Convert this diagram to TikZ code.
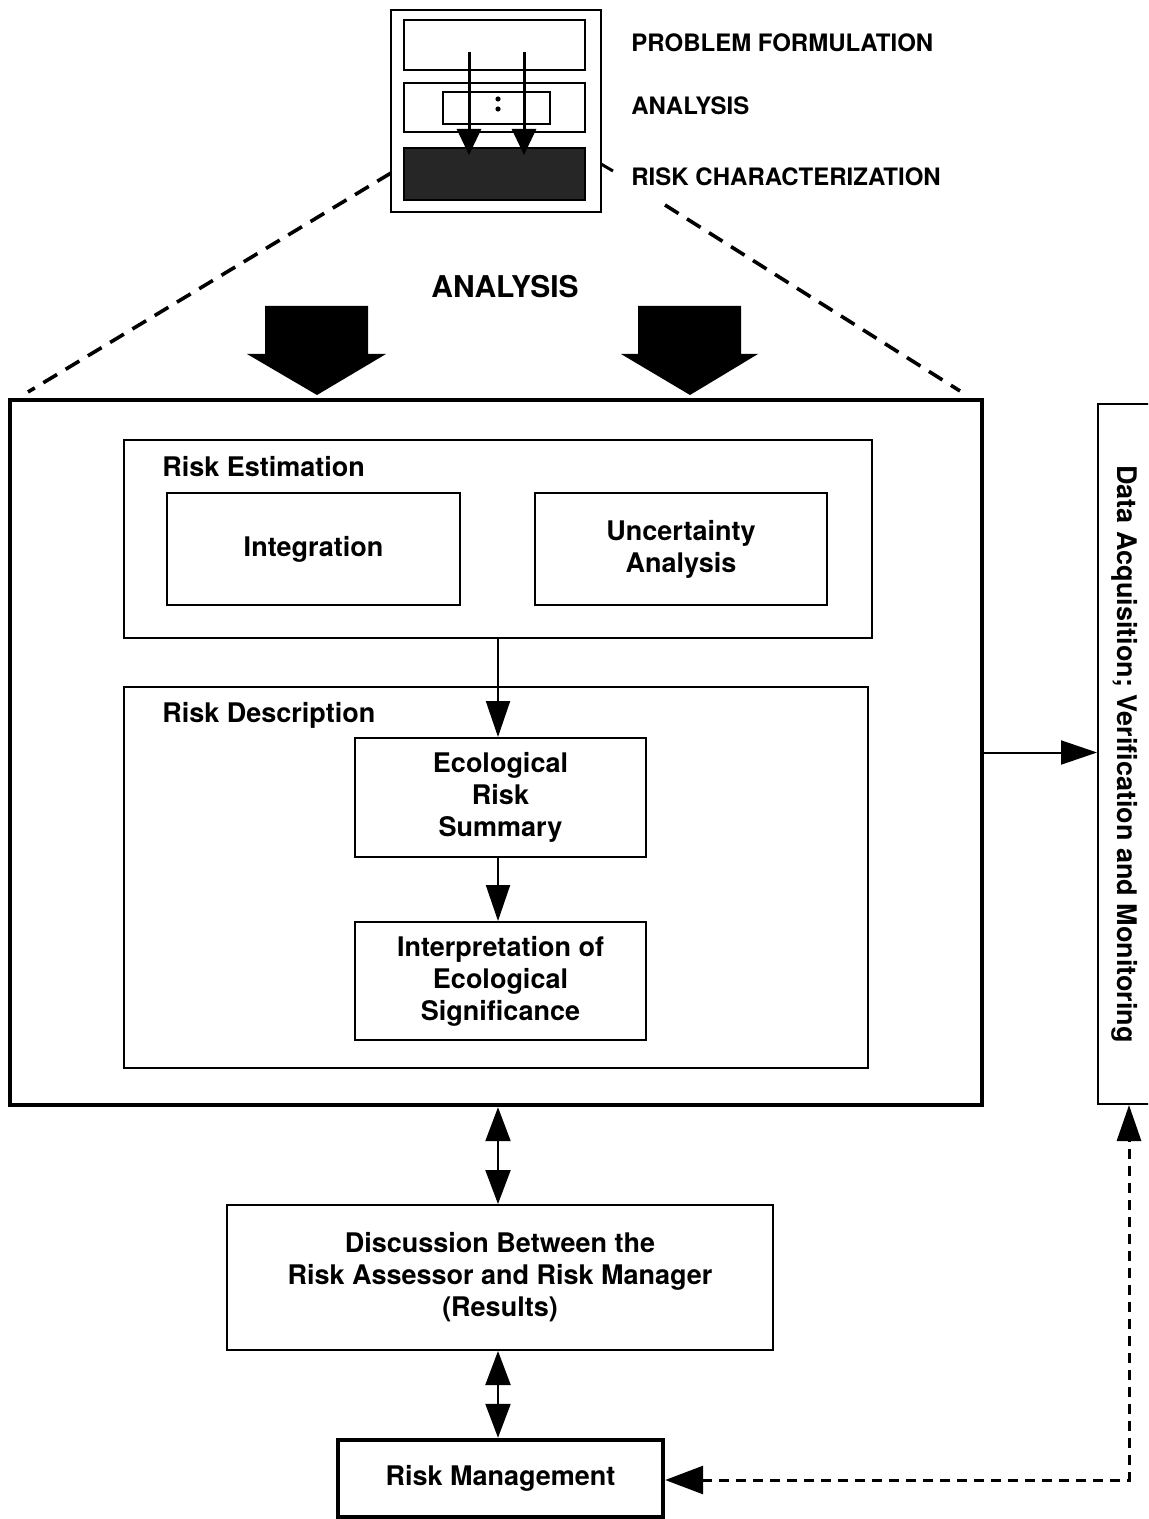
\documentclass[tikz,border=0pt]{standalone}
\usepackage{fontspec}
\setmainfont{TeX Gyre Heros}
\usetikzlibrary{arrows.meta,calc}
\begin{document}
\begin{tikzpicture}[x=0.5pt,y=-0.5pt,
  txt/.style={font=\bfseries\fontsize{13.5}{16}\selectfont},
  box/.style={draw, line width=1pt, align=center, inner sep=0pt, txt},
  thickbox/.style={box, line width=2.2pt},
  minibox/.style={draw, line width=1.4pt, inner sep=0pt},
  toplabel/.style={anchor=west, inner sep=0pt, font=\bfseries\fontsize{12}{14}\selectfont},
  arr/.style={line width=1pt, -{Triangle[length=18pt,width=12pt]}},
  dbl/.style={line width=1.1pt, {Triangle[length=17pt,width=12.5pt]}-{Triangle[length=17pt,width=12.5pt]}},
  miniarr/.style={line width=1.5pt, -{Triangle[length=13pt,width=12pt]}},
  bigdash/.style={line width=1.8pt, dash pattern=on 8pt off 5pt},
  fbdash/.style={line width=1.5pt, dash pattern=on 5pt off 3.5pt},
  bigarrow/.style={fill=black}
]
\clip (0,0) rectangle (1148,1519);

% ---------- mini overview diagram ----------
\node[minibox, minimum width=105pt, minimum height=101pt] (mo) at (496,111) {};
\node[minibox, minimum width=90.5pt, minimum height=25pt] (mt) at (494.5,45) {};
\node[minibox, minimum width=90.5pt, minimum height=24.5pt] (mm) at (494.5,107.5) {};
\node[minibox, line width=1.2pt, minimum width=53.5pt, minimum height=16pt] (ms) at (496.5,108) {};
\node[draw, fill=black!85, line width=1pt, inner sep=0pt, minimum width=90.5pt, minimum height=26pt] (md) at (494.5,174) {};
\fill (498,99) circle (1.3pt);
\fill (498,109) circle (1.3pt);
\coordinate (ma1) at (469,52);
\coordinate (mb1) at (469,155);
\coordinate (ma2) at (524,52);
\coordinate (mb2) at (524,155);
\draw[miniarr] (ma1) -- (mb1);
\draw[miniarr] (ma2) -- (mb2);

\node[toplabel] (lpf) at (631,43) {PROBLEM FORMULATION};
\node[toplabel] (lan) at (631,106) {ANALYSIS};
\node[toplabel] (lrc) at (631,177) {RISK CHARACTERIZATION};

% ---------- dashed zoom lines ----------
\coordinate (dl1) at (391,173);
\coordinate (dl2) at (28,392);
\coordinate (dr0) at (601,164);
\coordinate (dr1) at (613,171);
\coordinate (dr2) at (665,205);
\coordinate (dr3) at (960,391);
\draw[bigdash] (dl1) -- (dl2);
\draw[line width=1.5pt] (dr0) -- (dr1);
\draw[bigdash] (dr2) -- (dr3);

% ---------- ANALYSIS label and big arrows ----------
\node[inner sep=0pt, font=\bfseries\fontsize{15}{18}\selectfont] (ana) at (505,287) {ANALYSIS};
\fill[bigarrow] (265,306) -- (368,306) -- (368,354) -- (386,354) -- (317,395) -- (247,354) -- (265,354) -- cycle;
\fill[bigarrow] (638,306) -- (741,306) -- (741,354) -- (758,354) -- (690,395) -- (621,354) -- (638,354) -- cycle;

% ---------- main risk characterization box ----------
\node[thickbox, minimum width=486pt, minimum height=352.5pt] (main) at (496,752.5) {};

\node[box, minimum width=374pt, minimum height=99pt] (est) at (498,539) {};
\node[txt, anchor=west, inner sep=0pt] (estl) at (162,467) {Risk Estimation};
\node[box, minimum width=146.5pt, minimum height=56pt] (integ) at (313.5,549) {Integration};
\node[box, minimum width=146pt, minimum height=56pt] (unc) at (681,549) {Uncertainty\\Analysis};

\node[box, minimum width=372pt, minimum height=190.5pt] (desc) at (496,877.5) {};
\node[txt, anchor=west, inner sep=0pt] (descl) at (162,715) {Risk Description};
\node[box, minimum width=145.5pt, minimum height=59.5pt] (eco) at (500.5,797.5) {Ecological\\Risk\\Summary};
\node[box, minimum width=145.5pt, minimum height=59pt] (interp) at (500.5,981) {Interpretation of\\Ecological\\Significance};

\draw[arr] (est.south -| 498,0) -- (eco.north -| 498,0);
\draw[arr] (eco.south -| 498,0) -- (interp.north -| 498,0);

% ---------- right side box ----------
\node[box, minimum width=36pt, minimum height=350pt] (right) at (1134,754) {};
\node[txt, rotate=-90, inner sep=0pt] (rightl) at (1125,754) {Data Acquisition; Verification and Monitoring};
\draw[arr] (main.east) -- (main.east -| right.west);

% ---------- discussion and risk management ----------
\node[box, minimum width=273pt, minimum height=72.5pt] (disc) at (500,1277.5) {Discussion Between the\\Risk Assessor and Risk Manager\\(Results)};
\node[thickbox, minimum width=162.5pt, minimum height=38.5pt] (rm) at (500.5,1478.5) {Risk Management};

\draw[dbl] (main.south -| 498,0) -- (disc.north -| 498,0);
\draw[dbl] (disc.south -| 498,0) -- (rm.north -| 498,0);

\coordinate (fb) at (1129,1480);
\draw[fbdash, {Triangle[length=19pt,width=14pt]}-{Triangle[length=18pt,width=12pt]}]
  (rm.east |- fb) -- (fb) -- (fb |- right.south);
\end{tikzpicture}
\end{document}
